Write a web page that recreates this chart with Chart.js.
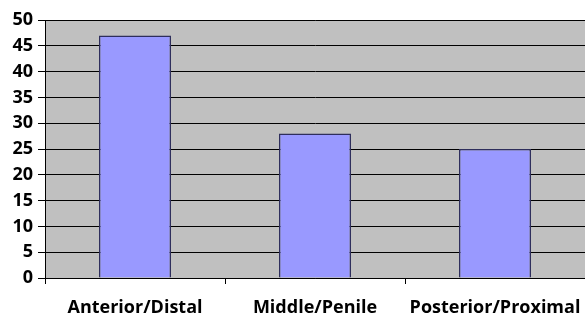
<!DOCTYPE html>
<html>
<head>
<meta charset="utf-8">
<script src="https://cdn.jsdelivr.net/npm/chart.js@4/dist/chart.umd.min.js"></script>
<style>
  html, body { margin: 0; padding: 0; background: #ffffff; }
  #wrap { width: 585px; height: 321px; position: relative; }
</style>
</head>
<body>
<div id="wrap"><canvas id="chart"></canvas></div>
<script>
const categories = ['Anterior/Distal', 'Middle/Penile', 'Posterior/Proximal'];
const values = [47, 28, 25];
const yMin = 0;
const yMax = 50;
const yStep = 5;

// gray plot area like the old office charts
const plotBackground = {
    id: 'plotBackground',
    beforeDraw: (chart) => {
        const { ctx, chartArea } = chart;
        ctx.save();
        ctx.fillStyle = '#c0c0c0';
        ctx.fillRect(chartArea.left, chartArea.top, chartArea.right - chartArea.left, chartArea.bottom - chartArea.top);
        ctx.strokeStyle = '#808080';
        ctx.lineWidth = 1;
        ctx.beginPath();
        ctx.moveTo(chartArea.left, chartArea.top + 0.5);
        ctx.lineTo(chartArea.right, chartArea.top + 0.5);
        ctx.stroke();
        ctx.restore();
    }
};

new Chart(document.getElementById('chart'), {
    type: 'bar',
    data: {
        labels: categories,
        datasets: [{
            data: values,
            backgroundColor: '#9999ff',
            borderColor: '#2e2e5c',
            borderWidth: 1.5,
            barPercentage: 0.4,
            categoryPercentage: 1.0
        }]
    },
    options: {
        responsive: true,
        maintainAspectRatio: false,
        animation: false,
        layout: { padding: { top: 20, right: 0, left: 0, bottom: 0 } },
        plugins: { legend: { display: false }, tooltip: { enabled: false } },
        scales: {
            x: {
                offset: true,
                grid: { display: true, drawOnChartArea: false, drawTicks: true, tickLength: 6, color: '#000000', offset: true },
                border: { display: true, color: '#000000', width: 1 },
                ticks: {
                    color: '#000000',
                    padding: 13,
                    maxRotation: 0,
                    autoSkip: false,
                    font: { family: 'Open Sans', weight: 'bold', size: 18 }
                },
                afterFit: (scale) => {
                    scale.height = 43;
                    // let the plot run to the right edge like the original
                    scale.paddingLeft = 0;
                    scale.paddingRight = 0;
                }
            },
            y: {
                min: yMin,
                max: yMax,
                grid: { color: '#000000', lineWidth: 1, tickLength: 7, drawTicks: true },
                border: { display: true, color: '#000000', width: 1 },
                ticks: {
                    stepSize: yStep,
                    color: '#000000',
                    padding: 5,
                    font: { family: 'Open Sans', weight: 'bold', size: 18 }
                },
                afterFit: (scale) => { scale.width = 45; }
            }
        }
    },
    plugins: [plotBackground]
});
</script>
</body>
</html>
